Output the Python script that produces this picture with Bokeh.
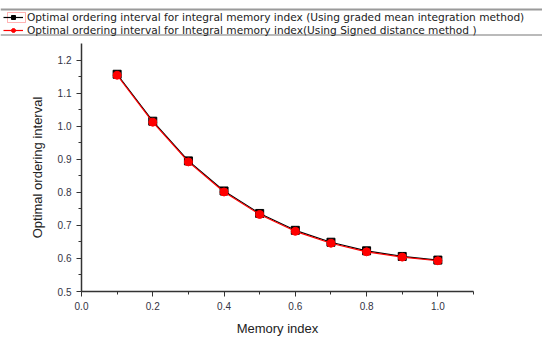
from bokeh.plotting import figure
from bokeh.layouts import column, row
from bokeh.models import Range1d, Legend, LegendItem, FixedTicker, NumeralTickFormatter, BoxAnnotation
from bokeh.embed import file_html
from bokeh.resources import INLINE

memory_index = [0.1, 0.2, 0.3, 0.4, 0.5, 0.6, 0.7, 0.8, 0.9, 1.0]
graded_mean = [1.157, 1.015, 0.895, 0.804, 0.736, 0.685, 0.649, 0.623, 0.606, 0.595]
signed_distance = [1.154, 1.012, 0.892, 0.801, 0.733, 0.682, 0.646, 0.620, 0.604, 0.593]

x_ticks = [0.0, 0.2, 0.4, 0.6, 0.8, 1.0]
y_ticks = [0.5, 0.6, 0.7, 0.8, 0.9, 1.0, 1.1, 1.2]

label1 = "Optimal ordering interval for integral memory index (Using graded mean integration method)"
label2 = "Optimal ordering interval for Integral memory index(Using Signed distance method )"

FONT = "Liberation Sans"

# ---- legend strip on top (series drawn off-range so only the legend shows) ----
top = figure(width=542, height=43, output_backend="svg", toolbar_location=None,
             x_range=Range1d(0, 1), y_range=Range1d(10, 11),
             x_axis_type=None, y_axis_type=None,
             min_border_left=0, min_border_right=0, min_border_top=0, min_border_bottom=0)
top.outline_line_color = None
top.grid.visible = False
tl1 = top.line(memory_index, graded_mean, line_color="black", line_width=1.2)
tm1 = top.scatter(memory_index, graded_mean, marker="square", size=7, fill_color="black", line_color="black")
tl2 = top.line(memory_index, signed_distance, line_color="red", line_width=1.2)
tm2 = top.scatter(memory_index, signed_distance, marker="circle", size=7, fill_color="red", line_color="red")
top.add_layout(BoxAnnotation(left=0, right=542, top=8, bottom=10,
                             left_units="canvas", right_units="canvas",
                             top_units="canvas", bottom_units="canvas",
                             fill_color="#9a9a9a", fill_alpha=1, line_color=None))
top.add_layout(BoxAnnotation(left=0, right=542, top=34, bottom=35,
                             left_units="canvas", right_units="canvas",
                             top_units="canvas", bottom_units="canvas",
                             fill_color="#777777", fill_alpha=1, line_color=None))
top.add_layout(BoxAnnotation(left=7, right=25, top=12, bottom=22,
                             left_units="canvas", right_units="canvas",
                             top_units="canvas", bottom_units="canvas",
                             fill_alpha=0, line_color="red", line_width=1))
legend = Legend(items=[LegendItem(label=label1, renderers=[tl1, tm1]),
                       LegendItem(label=label2, renderers=[tl2, tm2])],
                location=(3, 7), orientation="vertical",
                label_text_font="DejaVu Sans", label_text_font_size="10.6px", label_text_color="#222222",
                border_line_color=None, background_fill_alpha=0,
                glyph_width=20, glyph_height=10, label_standoff=4, spacing=1, padding=2, margin=0,
                label_height=10)
top.add_layout(legend, "center")

# ---- main chart ----
p = figure(width=542, height=295, output_backend="svg", toolbar_location=None,
           x_range=Range1d(0.0, 1.1), y_range=Range1d(0.5, 1.25),
           min_border_left=81, min_border_right=69, min_border_top=0, min_border_bottom=42)
p.outline_line_color = None
p.grid.visible = False

for ax in (p.xaxis[0], p.yaxis[0]):
    ax.axis_line_color = "#333333"
    ax.axis_line_width = 1.5
    ax.major_tick_line_color = "#333333"
    ax.minor_tick_line_color = "#333333"
    ax.major_tick_out = 5
    ax.major_tick_in = 0
    ax.minor_tick_out = 3
    ax.minor_tick_in = 0
    ax.major_label_text_font = FONT
    ax.major_label_text_font_size = "10px"
    ax.major_label_text_color = "#333344"
    ax.axis_label_text_font = FONT
    ax.axis_label_text_font_size = "13px"
    ax.axis_label_text_font_style = "normal"
    ax.axis_label_text_color = "#222222"
    ax.formatter = NumeralTickFormatter(format="0.0")

p.xaxis.ticker = FixedTicker(ticks=x_ticks, minor_ticks=[0.1, 0.3, 0.5, 0.7, 0.9, 1.1])
p.yaxis.ticker = FixedTicker(ticks=y_ticks, minor_ticks=[0.55, 0.65, 0.75, 0.85, 0.95, 1.05, 1.15])
p.xaxis.axis_label = "Memory index"
p.yaxis.axis_label = "Optimal ordering interval"
p.xaxis.axis_label_standoff = 8
p.yaxis.axis_label_standoff = 10

p.line(memory_index, graded_mean, line_color="black", line_width=1.2)
p.scatter(memory_index, graded_mean, marker="square", size=8, fill_color="black", line_color="black")
p.line(memory_index, signed_distance, line_color="red", line_width=1.2)
p.scatter(memory_index, signed_distance, marker="circle", size=8, fill_color="red", line_color="red")

layout = column(row(top), p, spacing=0)
open("out.html", "w").write(file_html(layout, INLINE))
